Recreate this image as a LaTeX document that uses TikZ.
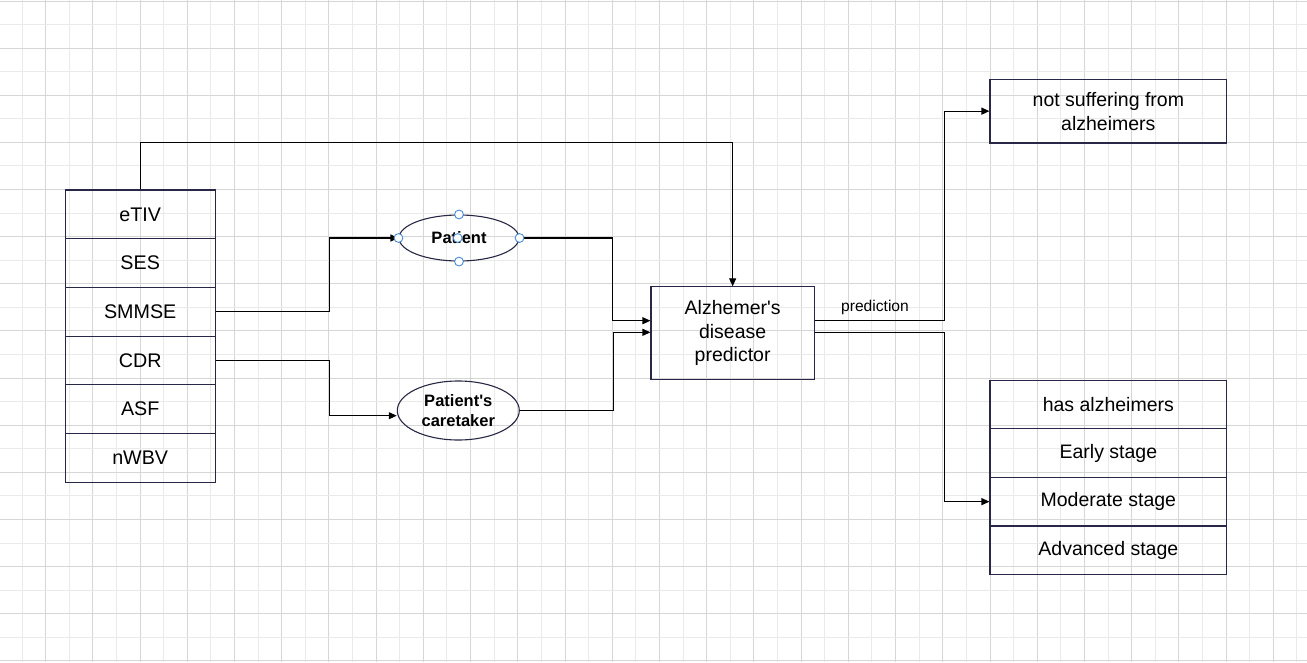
\documentclass[tikz,border=0pt]{standalone}
\usepackage{fontspec}
\setmainfont{Liberation Sans}
\usetikzlibrary{arrows.meta,shapes.geometric,calc}
\definecolor{boxc}{RGB}{40,40,70}
\definecolor{gridmaj}{RGB}{214,214,214}
\definecolor{gridmin}{RGB}{234,234,234}
\definecolor{hdlc}{RGB}{70,140,215}
\begin{document}
\begin{tikzpicture}[x=1pt,y=-1pt,
  cell/.style={draw=boxc, line width=1.1pt, rectangle, minimum width=149.7pt, minimum height=48.7pt, inner sep=0pt, font=\fontsize{19.7}{23}\selectfont},
  rcell/.style={draw=boxc, line width=1.1pt, rectangle, minimum width=236.7pt, minimum height=48.6pt, inner sep=0pt, font=\fontsize{19.5}{23}\selectfont},
  box/.style={draw=boxc, line width=1.1pt, rectangle, inner sep=0pt, align=center},
  ell/.style={draw=boxc, line width=1.1pt, ellipse, inner sep=0pt, align=center, font=\bfseries\fontsize{16.5}{19.6}\selectfont},
  conn/.style={draw=black, line width=1.1pt, -{Triangle[length=8pt,width=7pt]}},
  hdl/.style={draw=hdlc, fill=white, line width=0.9pt}
]
\useasboundingbox (0,0) rectangle (1307,662);
\fill[white] (0,0) rectangle (1307,662);
% grid
\foreach \i in {0,2,...,54} { \draw[gridmin, line width=1pt] ({22+23.61*\i},0) -- ({22+23.61*\i},662); }
\foreach \i in {1,3,...,53} { \draw[gridmaj, line width=1pt] ({22+23.61*\i},0) -- ({22+23.61*\i},662); }
\foreach \j in {1,3,...,27} { \draw[gridmin, line width=1pt] (0,{1+23.57*\j}) -- (1307,{1+23.57*\j}); }
\foreach \j in {0,2,...,28} { \draw[gridmaj, line width=1pt] (0,{1+23.57*\j}) -- (1307,{1+23.57*\j}); }

% left table
\node[cell] (etiv)  at (140.2,214.35) {eTIV};
\node[cell] (ses)   at (140.2,263.05) {SES};
\node[cell] (smmse) at (140.2,311.7) {SMMSE};
\node[cell] (cdr)   at (140.2,360.4) {CDR};
\node[cell] (asf)   at (140.2,409.1) {ASF};
\node[cell] (nwbv)  at (140.2,457.8) {nWBV};

% ellipses
\node[ell, minimum width=120pt, minimum height=46pt] (patient) at (459,238) {Patient};
\node[ell, minimum width=122pt, minimum height=59pt] (care) at (458.3,410.5) {Patient\textquotesingle s\\caretaker};

% predictor
\node[box, minimum width=163.3pt, minimum height=92.3pt, font=\fontsize{19.5}{23.5}\selectfont] (pred) at (732.65,333) {Alzhemer\textquotesingle s\\disease\\predictor};
\path (pred) ++(0,0) coordinate (predc);

% outputs
\node[box, minimum width=236.7pt, minimum height=63.7pt, font=\fontsize{19.5}{24}\selectfont] (ns) at (1108.35,111.15) {not suffering from\\alzheimers};
\node[rcell] (has)   at (1108.35,404.35) {has alzheimers};
\node[rcell] (early) at (1108.35,453.0) {Early stage};
\node[rcell] (moder) at (1108.35,501.65) {Moderate stage};
\node[rcell] (adv)   at (1108.35,550.15) {Advanced stage};

% connectors
\draw[conn] (etiv.north) -- ++(0,-46.7) -| (pred.north);
\draw[conn] (smmse.east) -- ++(114.3,0) |- (patient.west);
\draw[conn] (cdr.east) -- ++(114.3,0) |- ([yshift=-5.2pt]care.west);
\draw[conn] (patient.east) -- ++(93.3,0) |- ([yshift=12.3pt]pred.west);
\draw[conn] (care.east) -- ++(93.3,0) |- ([yshift=0.7pt]pred.west);
\draw[conn] ([yshift=12.3pt]pred.east) -- ++(129.7,0) |- (ns.west);
\draw[conn] ([yshift=0.7pt]pred.east) -- ++(129.7,0) |- (moder.west);
\node[font=\fontsize{15.6}{18}\selectfont, anchor=base, inner sep=0pt] (plabel) at (875,311.5) {prediction};

% selection handles
\draw[hdl] (patient.north) circle[radius=4.4pt];
\draw[hdl] (patient.south) circle[radius=4.4pt];
\draw[hdl] (patient.west) circle[radius=4.4pt];
\draw[hdl] (patient.east) circle[radius=4.4pt];
\draw[hdl] ([xshift=-1.3pt]patient.center) circle[radius=4.4pt];
\end{tikzpicture}
\end{document}
